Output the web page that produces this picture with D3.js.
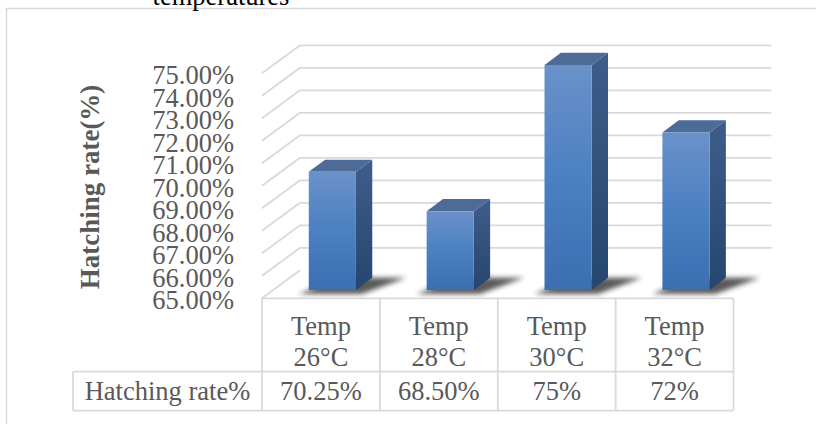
<!DOCTYPE html>
<html>
<head>
<meta charset="utf-8">
<script src="https://cdn.jsdelivr.net/npm/d3@7"></script>
<style>
  html, body { margin: 0; padding: 0; background: #fff; }
  svg text { font-family: "Liberation Serif", "Times New Roman", serif; }
</style>
</head>
<body>
<svg id="chart" width="816" height="424"></svg>
<script>
// 데이터
var categories = ["Temp 26°C", "Temp 28°C", "Temp 30°C", "Temp 32°C"];
var categoryLines = [["Temp", "26°C"], ["Temp", "28°C"], ["Temp", "30°C"], ["Temp", "32°C"]];
var hatchRates = [70.25, 68.5, 75, 72];
var hatchLabels = ["70.25%", "68.50%", "75%", "72%"];
var yTicks = [65, 66, 67, 68, 69, 70, 71, 72, 73, 74, 75];
var seriesName = "Hatching rate%";
var axisTitle = "Hatching rate(%)";
var titleTail = "temperatures";

var svg = d3.select("#chart");
var textColor = "#595959", lineColor = "#d9d9d9";

// 3D 깊이 (앞면 -> 뒷벽)
var depthX = 38, depthY = -28;
var barD0 = 0.3, barD1 = 0.73;
var proj = function(x, y, d) { return [x + depthX * d, y + depthY * d]; };

var x = d3.scaleBand()
          .domain(categories)
          .range([262, 733.5])
          .paddingInner(0).paddingOuter(0);

var y = d3.scaleLinear()
          .domain([65, 75])
          .range([298.3, 73.3]);

var barW = x.bandwidth() * 0.4;

// 바깥 테두리
svg.append("rect")
   .attr("x", 6.5).attr("y", 8.5)
   .attr("width", 900).attr("height", 600)
   .attr("fill", "none")
   .attr("stroke", lineColor)
   .attr("stroke-width", 1.5);

// 제목 (잘린 부분)
svg.append("text")
   .attr("x", 221).attr("y", 5)
   .attr("text-anchor", "middle")
   .attr("fill", "#000")
   .style("font-size", "26.5px")
   .text(titleTail);

// 그림자 필터
var defs = svg.append("defs");
defs.append("filter")
    .attr("id", "blur")
    .attr("x", "-50%").attr("y", "-50%").attr("width", "200%").attr("height", "200%")
    .append("feGaussianBlur").attr("stdDeviation", 2.5);

var gFront = defs.append("linearGradient").attr("id", "gFront")
                 .attr("x1", 0).attr("y1", 0).attr("x2", 0).attr("y2", 1);
gFront.append("stop").attr("offset", "0%").attr("stop-color", "#6b91c9");
gFront.append("stop").attr("offset", "50%").attr("stop-color", "#4b80c2");
gFront.append("stop").attr("offset", "100%").attr("stop-color", "#3c6eb2");

var gSide = defs.append("linearGradient").attr("id", "gSide")
                .attr("x1", 0).attr("y1", 0).attr("x2", 0).attr("y2", 1);
gSide.append("stop").attr("offset", "0%").attr("stop-color", "#3f5d8a");
gSide.append("stop").attr("offset", "100%").attr("stop-color", "#25466f");

// 격자선 (뒷벽 + 왼쪽 사선)
var grid = svg.append("g");
grid.selectAll(".hline")
    .data(yTicks.filter(function(d) { return d > 65; }))
    .enter().append("line")
    .attr("x1", function() { return proj(x.range()[0], 0, 1)[0]; })
    .attr("x2", function() { return proj(x.range()[1], 0, 1)[0]; })
    .attr("y1", function(d) { return proj(0, y(d), 1)[1]; })
    .attr("y2", function(d) { return proj(0, y(d), 1)[1]; })
    .attr("stroke", lineColor).attr("stroke-width", 1.75);

grid.selectAll(".dline")
    .data(yTicks)
    .enter().append("line")
    .attr("x1", x.range()[0])
    .attr("y1", function(d) { return y(d); })
    .attr("x2", function() { return proj(x.range()[0], 0, 1)[0]; })
    .attr("y2", function(d) { return proj(0, y(d), 1)[1]; })
    .attr("stroke", lineColor).attr("stroke-width", 1.75);

// y축 눈금 라벨
svg.append("g").selectAll("text")
   .data(yTicks)
   .enter().append("text")
   .attr("x", 234)
   .attr("y", function(d) { return y(d) + 11; })
   .attr("text-anchor", "end")
   .attr("fill", textColor)
   .style("font-size", "26.5px")
   .text(function(d) { return d3.format(".2f")(d) + "%"; });

// y축 제목
svg.append("text")
   .attr("transform", "translate(99,187) rotate(-90)")
   .attr("text-anchor", "middle")
   .attr("fill", textColor)
   .style("font-size", "27px")
   .style("font-weight", "bold")
   .text(axisTitle);

// 막대
var bars = svg.append("g").selectAll("g")
              .data(hatchRates)
              .enter().append("g");

var pts = function(arr) { return arr.map(function(p) { return p.join(","); }).join(" "); };
var left = function(d, i) { return x(categories[i]) + (x.bandwidth() - barW) / 2; };

// 그림자
bars.append("polygon")
    .attr("points", function(d, i) {
      var xl = left(d, i), xr = xl + barW, yb = y(65);
      return pts([proj(xl - 10, yb + 4, barD0), proj(xr + 6, yb + 4, barD0),
                  proj(xr + 34, yb, barD1), proj(xl + 14, yb, barD1)]);
    })
    .attr("fill", "#222")
    .attr("opacity", 0.75)
    .attr("filter", "url(#blur)");

// 옆면
bars.append("polygon")
    .attr("points", function(d, i) {
      var xr = left(d, i) + barW;
      return pts([proj(xr, y(d), barD0), proj(xr, y(d), barD1),
                  proj(xr, y(65), barD1), proj(xr, y(65), barD0)]);
    })
    .attr("fill", "url(#gSide)");

// 윗면
bars.append("polygon")
    .attr("points", function(d, i) {
      var xl = left(d, i), xr = xl + barW;
      return pts([proj(xl, y(d), barD0), proj(xr, y(d), barD0),
                  proj(xr, y(d), barD1), proj(xl, y(d), barD1)]);
    })
    .attr("fill", "#4e6b97");

// 앞면
bars.append("polygon")
    .attr("points", function(d, i) {
      var xl = left(d, i), xr = xl + barW;
      return pts([proj(xl, y(d), barD0), proj(xr, y(d), barD0),
                  proj(xr, y(65), barD0), proj(xl, y(65), barD0)]);
    })
    .attr("fill", "url(#gFront)");

// 데이터 표
var tbl = svg.append("g");
var rowTop = y(65), rowMid = 371.7, rowBot = 410.5, labelLeft = 73;
var colEdges = categories.map(function(c) { return x(c); }).concat([x.range()[1]]);

tbl.append("line").attr("x1", x.range()[0]).attr("x2", x.range()[1])
   .attr("y1", rowTop).attr("y2", rowTop);
tbl.append("line").attr("x1", labelLeft).attr("x2", x.range()[1])
   .attr("y1", rowMid).attr("y2", rowMid);
tbl.append("line").attr("x1", labelLeft).attr("x2", x.range()[1])
   .attr("y1", rowBot).attr("y2", rowBot);
tbl.append("line").attr("x1", labelLeft).attr("x2", labelLeft)
   .attr("y1", rowMid).attr("y2", rowBot);
tbl.selectAll(".v")
   .data(colEdges)
   .enter().append("line")
   .attr("x1", function(d) { return d; }).attr("x2", function(d) { return d; })
   .attr("y1", rowTop).attr("y2", rowBot);
tbl.selectAll("line")
   .attr("stroke", lineColor).attr("stroke-width", 1.75);

var catText = tbl.selectAll(".cat")
                 .data(categories)
                 .enter().append("text")
                 .attr("text-anchor", "middle")
                 .attr("fill", textColor)
                 .style("font-size", "26.5px");
catText.append("tspan")
       .attr("x", function(d) { return x(d) + x.bandwidth() / 2; })
       .attr("y", 335)
       .text(function(d, i) { return categoryLines[i][0]; });
catText.append("tspan")
       .attr("x", function(d) { return x(d) + x.bandwidth() / 2; })
       .attr("y", 366)
       .text(function(d, i) { return categoryLines[i][1]; });

tbl.selectAll(".val")
   .data(hatchLabels)
   .enter().append("text")
   .attr("x", function(d, i) { return x(categories[i]) + x.bandwidth() / 2; })
   .attr("y", 399.5)
   .attr("text-anchor", "middle")
   .attr("fill", textColor)
   .style("font-size", "26.5px")
   .text(function(d) { return d; });

tbl.append("text")
   .attr("x", (labelLeft + x.range()[0]) / 2)
   .attr("y", 399.5)
   .attr("text-anchor", "middle")
   .attr("fill", textColor)
   .style("font-size", "26.5px")
   .text(seriesName);
</script>
</body>
</html>
